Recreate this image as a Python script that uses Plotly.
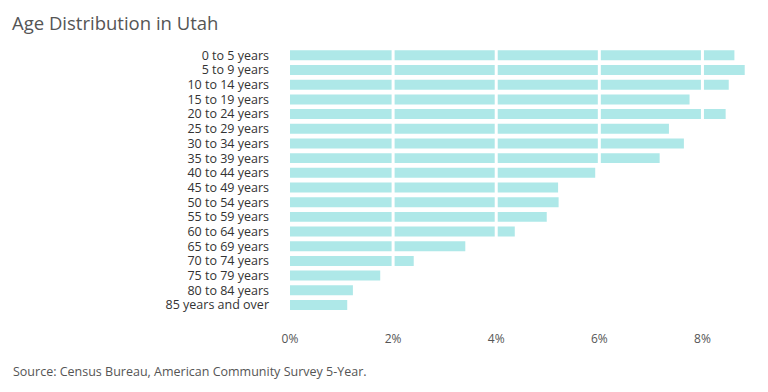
import plotly.graph_objects as go

categories = ["0 to 5 years", "5 to 9 years", "10 to 14 years", "15 to 19 years",
              "20 to 24 years", "25 to 29 years", "30 to 34 years", "35 to 39 years",
              "40 to 44 years", "45 to 49 years", "50 to 54 years", "55 to 59 years",
              "60 to 64 years", "65 to 69 years", "70 to 74 years", "75 to 79 years",
              "80 to 84 years", "85 years and over"]
values = [8.62, 8.82, 8.51, 7.75, 8.45, 7.35, 7.64, 7.17, 5.92, 5.20, 5.21, 4.98,
          4.36, 3.40, 2.40, 1.75, 1.22, 1.11]
tick_vals = [0, 2, 4, 6, 8]
tick_text = ["0%", "2%", "4%", "6%", "8%"]

# page body has an 8px margin, so the figure is drawn 8px smaller and offset
OFF = 8
W, H = 768 - OFF, 392 - OFF
l, r, t, b = 290 - OFF, 14, 48 - OFF, 65
pw, ph = W - l - r, H - t - b
def px(xp): return (xp - OFF - l) / pw
def py(yp): return (H - b - (yp - OFF)) / ph

fig = go.Figure()
fig.add_trace(go.Bar(
    x=values, y=list(range(len(categories))), orientation="h",
    marker=dict(color="#aee8e8", line=dict(width=0)),
    hoverinfo="x+text", text=categories, textposition="none",
))

for tv in tick_vals[1:]:
    fig.add_shape(type="line", xref="x", yref="paper", x0=tv, x1=tv, y0=0, y1=1,
                  line=dict(color="white", width=3), layer="above")

fig.update_layout(
    width=W, height=H,
    margin=dict(l=l, r=r, t=t, b=b, autoexpand=False),
    paper_bgcolor="white", plot_bgcolor="white",
    bargap=0.32,
    showlegend=False,
    font=dict(family="Open Sans, Lato, sans-serif", color="#444"),
    xaxis=dict(range=[0, 9], tickvals=tick_vals, ticktext=tick_text,
               showgrid=False, zeroline=False, showline=False,
               ticklabelstandoff=3,
               tickfont=dict(size=12, color="#555"), ticks="", fixedrange=True),
    yaxis=dict(range=[18.5, -0.5], tickvals=list(range(len(categories))),
               ticktext=categories, showgrid=False, zeroline=False, showline=False,
               ticks="", ticklabelstandoff=20,
               tickfont=dict(size=12.5, color="#333"), fixedrange=True),
    annotations=[
        dict(text="Age Distribution in Utah", x=px(11), y=py(8.5), xref="paper",
             yref="paper", xanchor="left", yanchor="top", showarrow=False,
             borderpad=0, font=dict(size=18.5, color="#555")),
        dict(text="Source: Census Bureau, American Community Survey 5-Year.",
             x=px(11), y=py(371), xref="paper", yref="paper", xanchor="left",
             yanchor="middle", showarrow=False, font=dict(size=12.5, color="#555")),
    ],
)

fig.write_html("out.html")
